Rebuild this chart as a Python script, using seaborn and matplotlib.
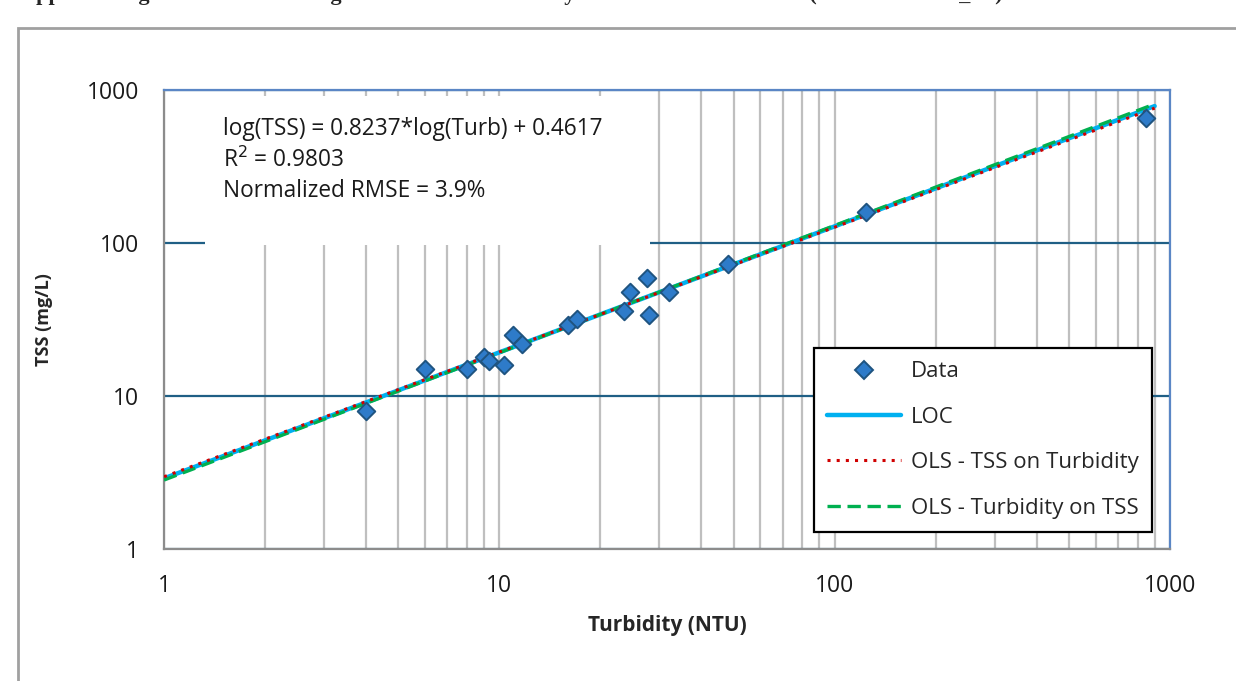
import numpy as np
import pandas as pd
import seaborn as sns
import matplotlib.pyplot as plt
from matplotlib.patches import Rectangle
from matplotlib.lines import Line2D

# data
turbidity = [4, 6, 8, 9, 9.3, 10.3, 11, 11.7, 16, 17, 23.5, 24.5, 27.5, 28, 32, 48, 124, 850]
tss = [8, 15, 15, 18, 17, 16, 25, 22, 29, 32, 36, 48, 59, 34, 48, 73, 160, 660]

# fit as printed on the chart
loc_slope = 0.8237
loc_int = 0.4617
r_squared = 0.9803
line_x = [1, 900]

tick_vals = [1, 10, 100, 1000]
tick_labels = ['1', '10', '100', '1000']

title = 'Appendix Figure C-5: Linear Regression of TSS-Turbidity for the Calaveras River (CAL at Bellota_SS)'
eq_text = 'log(TSS) = 0.8237*log(Turb) + 0.4617\nR$^2$ = 0.9803\nNormalized RMSE = 3.9%'

sns.set_style('white')
plt.rcParams['font.family'] = ['Open Sans', 'DejaVu Sans']

df = pd.DataFrame({'Turbidity': turbidity, 'TSS': tss})

# regression lines (all through the centroid of the logs)
r = np.sqrt(r_squared)
xbar = np.log10(df['Turbidity']).mean()
ybar = loc_int + loc_slope * xbar
lx = np.log10(line_x)
lines = {}
for name, slope in [('LOC', loc_slope),
                    ('OLS - TSS on Turbidity', loc_slope * r),
                    ('OLS - Turbidity on TSS', loc_slope / r)]:
    b0 = ybar - slope * xbar
    lines[name] = pd.DataFrame({'x': line_x, 'y': 10 ** (b0 + slope * lx)})

fig = plt.figure(figsize=(12.36, 6.81), dpi=100)
ax = fig.add_axes([0.1327, 0.1938, 0.8139, 0.674])

ax.set_xscale('log')
ax.set_yscale('log')
ax.set_xlim(1, 1000)
ax.set_ylim(1, 1000)

sns.lineplot(data=lines['LOC'], x='x', y='y', ax=ax, color='#00B0F0', lw=3.2, zorder=3)
sns.lineplot(data=lines['OLS - Turbidity on TSS'], x='x', y='y', ax=ax, color='#00B050',
             lw=2.4, linestyle=(0, (4, 2)), zorder=4)
sns.lineplot(data=lines['OLS - TSS on Turbidity'], x='x', y='y', ax=ax, color='#D00000',
             lw=2.2, linestyle=(0, (1, 2)), zorder=5)
sns.scatterplot(data=df, x='Turbidity', y='TSS', ax=ax, marker='D', s=80,
                color='#2E7BC9', edgecolor='#1F5480', linewidth=1.4, zorder=6)

# grid
ax.set_axisbelow(True)
ax.xaxis.grid(True, which='both', color='#BFBFBF', lw=1.6)
ax.yaxis.grid(True, which='major', color='#1F5F85', lw=1.6)
ax.yaxis.grid(False, which='minor')

ax.set_xticks(tick_vals)
ax.set_xticklabels(tick_labels)
ax.set_yticks(tick_vals)
ax.set_yticklabels(tick_labels)
ax.tick_params(which='major', length=7, width=1.5, color='#8C8C8C', pad=11,
               labelsize=16.5, labelcolor='#1a1a1a')
ax.tick_params(axis='y', which='minor', left=False)
ax.tick_params(axis='x', which='minor', length=0)

for side in ['left', 'bottom']:
    ax.spines[side].set_color('#8C8C8C')
    ax.spines[side].set_linewidth(1.6)
for side in ['top', 'right']:
    ax.spines[side].set_color('#5A86C5')
    ax.spines[side].set_linewidth(1.6)

ax.set_xlabel('Turbidity (NTU)', fontsize=15, fontweight='bold', labelpad=12)
ax.set_ylabel('TSS (mg/L)', fontsize=13, fontweight='bold', labelpad=24)

# white box behind the equation
ax.add_patch(Rectangle((0.041, 0.662), 0.442, 0.325, transform=ax.transAxes,
                       facecolor='white', edgecolor='none', zorder=1))
ax.text(0.059, 0.942, eq_text, transform=ax.transAxes, fontsize=16.3, va='top',
        ha='left', linespacing=1.36, color='#1a1a1a', zorder=7)

handles = [
    Line2D([], [], marker='D', ls='none', markersize=9, markerfacecolor='#2E7BC9',
           markeredgecolor='#1F5480', markeredgewidth=1.4),
    Line2D([], [], color='#00B0F0', lw=3.2),
    Line2D([], [], color='#D00000', lw=2.2, linestyle=(0, (1, 2))),
    Line2D([], [], color='#00B050', lw=2.4, linestyle=(0, (4, 2))),
]
labels = ['Data', 'LOC', 'OLS - TSS on Turbidity', 'OLS - Turbidity on TSS']
leg = ax.legend(handles, labels, loc='lower right', bbox_to_anchor=(0.982, 0.037),
                borderaxespad=0, fontsize=16, frameon=True, fancybox=False,
                framealpha=1, edgecolor='black', handlelength=3.3, labelspacing=1.1,
                borderpad=0.6, handletextpad=0.45)
leg.get_frame().set_linewidth(1.6)
leg.set_zorder(8)

# outer chart frame and clipped title
fig.patches.append(Rectangle((18 / 1236, -0.5), 2, 1 - 28 / 681 + 0.5,
                             transform=fig.transFigure, facecolor='none',
                             edgecolor='#A0A0A0', lw=2))
fig.text(20 / 1236, 1 + 0.5 / 681, title, fontsize=16, fontweight='bold',
         family='Liberation Serif', va='baseline', ha='left')

fig.savefig('out.png', dpi=100)
